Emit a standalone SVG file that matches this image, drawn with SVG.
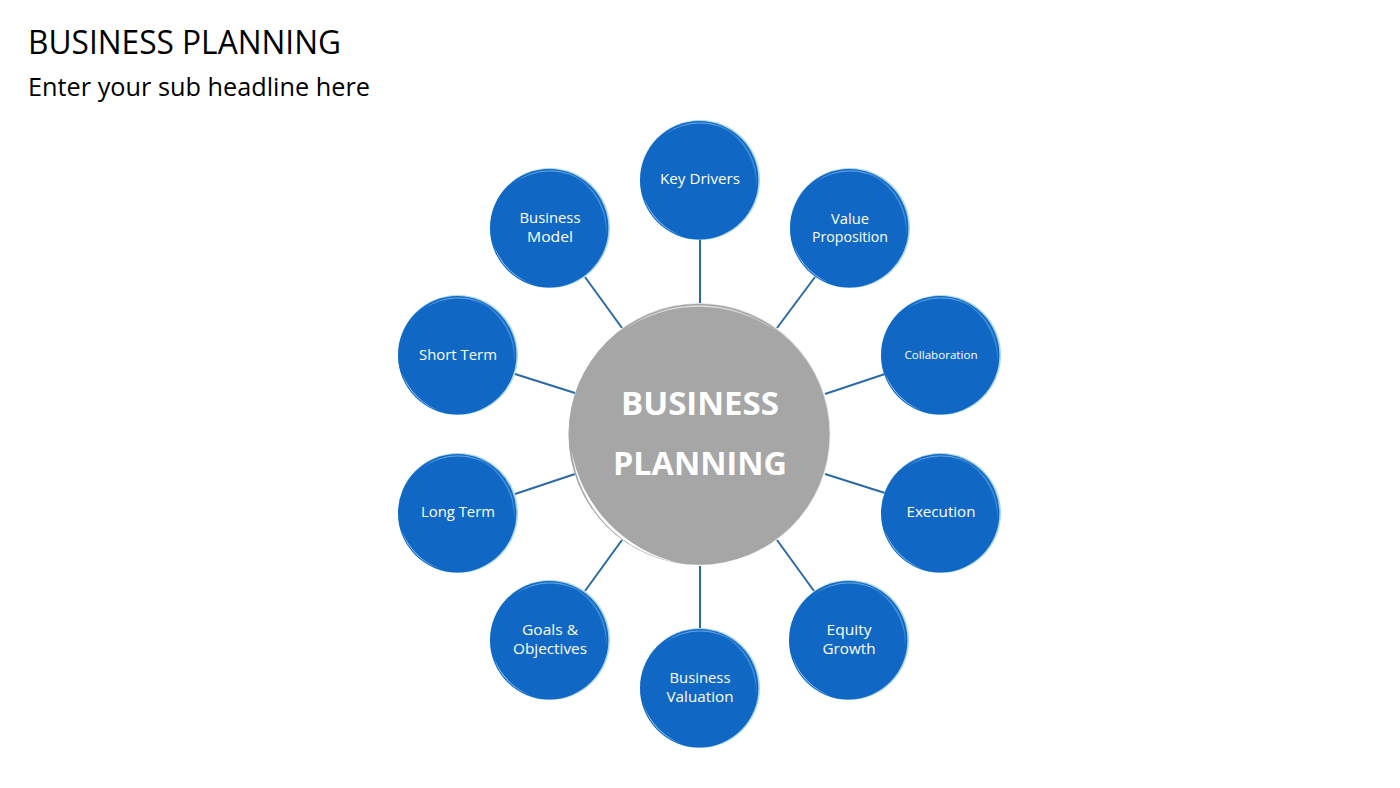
<svg xmlns="http://www.w3.org/2000/svg" width="1400" height="788" viewBox="0 0 1400 788">
<style>
text{font-family:"Open Sans","Noto Sans","Liberation Sans",sans-serif;text-anchor:middle}
.t{fill:#fff;font-size:14px}
.h{fill:#000;text-anchor:start}
.c{stroke:#2a6aa8;stroke-width:2;fill:none}
.m{fill:#fff;font-size:33px;font-weight:700}
</style>
<defs>
<g id="bubble">
<circle r="60" fill="#a9d6f2"/>
<circle cx="-0.800" cy="0.200" r="59.200" fill="#1068c4"/>
<path d="M-36,-45 A57.500,57.500 0 0 1 36,-45 A62,62 0 0 0 -36,-45Z" fill="#5a9edd"/>
<path d="M-56,18 A58.500,58.500 0 0 0 -18,56 A68,68 0 0 1 -56,18Z" fill="#b4dbf6"/>
<path d="M22,-53 A57.500,57.500 0 0 1 56,8 A66,66 0 0 0 22,-53Z" fill="#3f8cd6"/>
</g>
</defs>
<text class="h" x="28" y="54" font-size="32" textLength="313" lengthAdjust="spacingAndGlyphs">BUSINESS PLANNING</text>
<text class="h" x="28" y="96" font-size="25" textLength="342" lengthAdjust="spacingAndGlyphs">Enter your sub headline here</text>
<g id="connectors">
<path class="c" d="M700,240V303"/>
<path class="c" d="M815,277L777,328"/>
<path class="c" d="M885,374L825,394"/>
<path class="c" d="M885,493L825,474"/>
<path class="c" d="M814,591L777,540"/>
<path class="c" d="M700,628V566"/>
<path class="c" d="M585,591L622,540"/>
<path class="c" d="M515,494L575,474"/>
<path class="c" d="M515,374L575,393"/>
<path class="c" d="M585,277L622,328"/>
</g>
<g id="center">
<circle cx="699.500" cy="434" r="131" fill="#dfe4e8"/>
<circle cx="699" cy="434.200" r="130.500" fill="#a6a6a6"/>
<path d="M622,331 A128.500,128.500 0 0 1 776,331 A134,134 0 0 0 622,331Z" fill="#dcdcdc"/>
<path d="M571.500,450 A128.500,128.500 0 0 0 680,563 A140,140 0 0 1 571.500,450Z" fill="#fff"/>
<text class="m" x="700" y="415" textLength="158" lengthAdjust="spacingAndGlyphs">BUSINESS</text>
<text class="m" x="700" y="475" textLength="174" lengthAdjust="spacingAndGlyphs">PLANNING</text>
</g>
<g id="key-drivers" transform="translate(700,180)"><use href="#bubble"/><text class="t" y="4" textLength="80" lengthAdjust="spacingAndGlyphs">Key Drivers</text></g>
<g id="value-proposition" transform="translate(850,228)"><use href="#bubble"/><text class="t" y="-4" textLength="38" lengthAdjust="spacingAndGlyphs">Value</text><text class="t" y="14" textLength="76" lengthAdjust="spacingAndGlyphs">Proposition</text></g>
<g id="collaboration" transform="translate(941,355)"><use href="#bubble"/><text class="t" y="4" style="font-size:11px" textLength="73" lengthAdjust="spacingAndGlyphs">Collaboration</text></g>
<g id="execution" transform="translate(941,513)"><use href="#bubble"/><text class="t" y="4" textLength="69" lengthAdjust="spacingAndGlyphs">Execution</text></g>
<g id="equity-growth" transform="translate(849,640)"><use href="#bubble"/><text class="t" y="-5" textLength="45" lengthAdjust="spacingAndGlyphs">Equity</text><text class="t" y="14" textLength="53" lengthAdjust="spacingAndGlyphs">Growth</text></g>
<g id="business-valuation" transform="translate(700,688)"><use href="#bubble"/><text class="t" y="-5" textLength="61" lengthAdjust="spacingAndGlyphs">Business</text><text class="t" y="14" textLength="67" lengthAdjust="spacingAndGlyphs">Valuation</text></g>
<g id="goals-objectives" transform="translate(550,640)"><use href="#bubble"/><text class="t" y="-5" textLength="56" lengthAdjust="spacingAndGlyphs">Goals &amp;</text><text class="t" y="14" textLength="74" lengthAdjust="spacingAndGlyphs">Objectives</text></g>
<g id="long-term" transform="translate(458,513)"><use href="#bubble"/><text class="t" y="4" textLength="74" lengthAdjust="spacingAndGlyphs">Long Term</text></g>
<g id="short-term" transform="translate(458,355)"><use href="#bubble"/><text class="t" y="5" textLength="78" lengthAdjust="spacingAndGlyphs">Short Term</text></g>
<g id="business-model" transform="translate(550,228)"><use href="#bubble"/><text class="t" y="-5" textLength="61" lengthAdjust="spacingAndGlyphs">Business</text><text class="t" y="14" textLength="46" lengthAdjust="spacingAndGlyphs">Model</text></g>
</svg>
